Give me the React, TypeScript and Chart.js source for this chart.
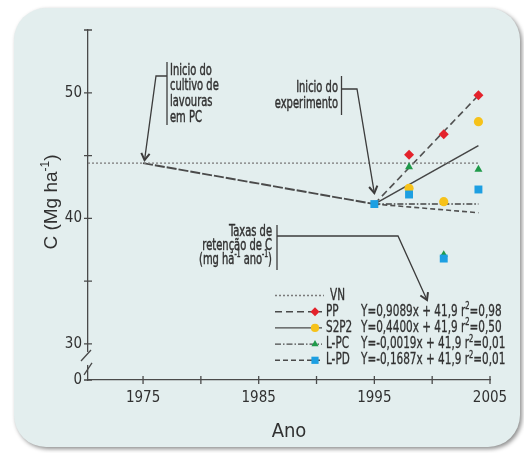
import React, { useEffect, useRef } from 'react';
import { Chart, registerables } from 'chart.js';

Chart.register(...registerables);

const NARROW = '"DejaVu Sans Condensed", "DejaVu Sans", sans-serif';
const REGULAR = '"Liberation Sans", Arial, sans-serif';
const TEXT = '#313131';
const AXIS = '#4a4a4a';
const BG = '#e3eeee';

// axis extent
const xMin = 1970.24;
const xMax = 2005;
const yMin = 27.13;
const yMax = 55;

// ticks
const xTickValues = [1975, 1980, 1985, 1990, 1995, 2000, 2005];
const xTickLabels = ['1975', '', '1985', '', '1995', '', '2005'];
const yTickValues = [30, 35, 40, 45, 50, 55];
const yTickLabels = ['30', '', '40', '', '50', ''];
const yBreakLabel = '0';

// reference lines
const vnYears = [1970.24, 2004];
const vnValues = [44.4, 44.4];
const declineYears = [1975, 1995];
const declineValues = [44.4, 41.14];

// series
const seriesNames = ['PP', 'S2P2', 'L-PC', 'L-PD'];
const sampleYears = [1998, 2001, 2004];
const ppValues = [45.06, 46.7, 49.8];
const s2p2Values = [42.4, 41.33, 47.7];
const lpcValues = [44.1, 37.1, 43.9];
const lpdValues = [41.9, 36.8, 42.3];
const startYear = 1995;
const startValue = 41.14;

// fitted lines
const fitYears = [1995, 2004];
const ppFit = [41.14, 49.8];
const s2p2Fit = [41.14, 45.8];
const lpcFit = [41.14, 41.14];
const lpdFit = [41.14, 40.45];

const equations = [
  'Y=0,9089x + 41,9 r²=0,98',
  'Y=0,4400x + 41,9 r²=0,50',
  'Y=-0,0019x + 41,9 r²=0,01',
  'Y=-0,1687x + 41,9 r²=0,01',
];

const annot1 = ['Inicio do', 'cultivo de', 'lavouras', 'em PC'];
const annot2 = ['Inicio do', 'experimento'];
const annot3 = ['Taxas de', 'retenção de C', '(mg ha⁻¹ ano⁻¹)'];

const yTitle = 'C (Mg ha⁻¹)';
const xTitle = 'Ano';

const COLORS = ['#e3222b', '#f6c21a', '#1f9a4a', '#1d9fe2'];
const STYLES = ['rectRot', 'circle', 'triangle', 'rect'];
const RADII = [5, 4.6, 4.6, 5.6];
const DASHES: number[][] = [[7, 4], [], [6, 2, 1.5, 2], [5, 3]];

const pts = (xs: number[], ys: number[]) => xs.map((x, i) => ({ x, y: ys[i] }));

const SUP: Record<string, string> = { '²': '2', '⁻': '-', '¹': '1' };

function drawRich(ctx: CanvasRenderingContext2D, text: string, x: number, y: number, size: number, align: string, family = NARROW, sx = 1, bold = 0) {
  const segs: { t: string; sup: boolean }[] = [];
  for (const ch of text) {
    const sup = ch in SUP;
    const c = sup ? SUP[ch] : ch;
    const last = segs[segs.length - 1];
    if (last && last.sup === sup) last.t += c;
    else segs.push({ t: c, sup });
  }
  const big = `${size}px ${family}`;
  const small = `${Math.round(size * 0.62)}px ${family}`;
  let total = 0;
  for (const s of segs) {
    ctx.font = s.sup ? small : big;
    total += ctx.measureText(s.t).width;
  }
  const w = total * sx;
  const start = align === 'right' ? x - w : align === 'center' ? x - w / 2 : x;
  ctx.save();
  ctx.translate(start, y);
  ctx.scale(sx, 1);
  ctx.textBaseline = 'middle';
  ctx.textAlign = 'left';
  ctx.strokeStyle = ctx.fillStyle as string;
  ctx.lineWidth = bold;
  ctx.setLineDash([]);
  let cx = 0;
  for (const s of segs) {
    ctx.font = s.sup ? small : big;
    const yy = s.sup ? -size * 0.33 : 0;
    ctx.fillText(s.t, cx, yy);
    if (bold > 0) ctx.strokeText(s.t, cx, yy);
    cx += ctx.measureText(s.t).width;
  }
  ctx.restore();
}

function arrow(ctx: CanvasRenderingContext2D, path: number[][]) {
  ctx.lineWidth = 1.3;
  ctx.beginPath();
  ctx.moveTo(path[0][0], path[0][1]);
  for (let i = 1; i < path.length; i++) ctx.lineTo(path[i][0], path[i][1]);
  ctx.stroke();
  const [ex, ey] = path[path.length - 1];
  const [px, py] = path[path.length - 2];
  const a = Math.atan2(ey - py, ex - px);
  const L = 8;
  ctx.beginPath();
  ctx.moveTo(ex - L * Math.cos(a - 0.55), ey - L * Math.sin(a - 0.55));
  ctx.lineTo(ex, ey);
  ctx.lineTo(ex - L * Math.cos(a + 0.55), ey - L * Math.sin(a + 0.55));
  ctx.lineWidth = 2;
  ctx.stroke();
  ctx.lineWidth = 1.3;
}

function marker(ctx: CanvasRenderingContext2D, style: string, x: number, y: number, r: number, color: string) {
  ctx.fillStyle = color;
  ctx.beginPath();
  if (style === 'circle') ctx.arc(x, y, r, 0, Math.PI * 2);
  else if (style === 'rect') { const s = r * Math.SQRT1_2; ctx.rect(x - s, y - s, 2 * s, 2 * s); }
  else if (style === 'rectRot') { ctx.moveTo(x, y - r); ctx.lineTo(x + r, y); ctx.lineTo(x, y + r); ctx.lineTo(x - r, y); ctx.closePath(); }
  else if (style === 'triangle') { const h = r * 1.5; ctx.moveTo(x, y - r); ctx.lineTo(x + h * 0.577, y + r * 0.5); ctx.lineTo(x - h * 0.577, y + r * 0.5); ctx.closePath(); }
  ctx.fill();
}

const decorPlugin = {
  id: 'decor',
  beforeDraw(chart: any) {
    const ctx = chart.ctx as CanvasRenderingContext2D;
    ctx.save();
    ctx.fillStyle = '#ffffff';
    ctx.fillRect(0, 0, chart.width, chart.height);
    ctx.shadowColor = 'rgba(0,0,0,0.45)';
    ctx.shadowBlur = 4;
    ctx.shadowOffsetX = 2;
    ctx.shadowOffsetY = 2;
    ctx.fillStyle = BG;
    ctx.beginPath();
    (ctx as any).roundRect(14, 8, 506, 439, 32);
    ctx.fill();
    ctx.restore();
  },
  afterDraw(chart: any) {
    const ctx = chart.ctx as CanvasRenderingContext2D;
    const xs = chart.scales.x;
    const ys = chart.scales.y;
    const ax = chart.chartArea.left;
    const ay = chart.chartArea.bottom;
    ctx.save();
    // tick marks crossing axes
    ctx.strokeStyle = AXIS;
    ctx.lineWidth = 1.3;
    ctx.beginPath();
    for (const v of xTickValues) {
      const px = xs.getPixelForValue(v);
      ctx.moveTo(px, ay - 4);
      ctx.lineTo(px, ay + 4);
    }
    for (const v of [yMin, ...yTickValues]) {
      const py = ys.getPixelForValue(v);
      ctx.moveTo(ax - 4, py);
      ctx.lineTo(ax + 4, py);
    }
    ctx.stroke();
    // axis break
    const y30 = ys.getPixelForValue(30);
    ctx.fillStyle = BG;
    ctx.fillRect(ax - 2, y30 + 8, 4, 13);
    ctx.beginPath();
    ctx.moveTo(ax - 7, y30 + 17);
    ctx.lineTo(ax + 3, y30 + 6);
    ctx.moveTo(ax - 4, y30 + 31);
    ctx.lineTo(ax + 4, y30 + 19);
    ctx.stroke();

    // y title
    ctx.fillStyle = TEXT;
    ctx.save();
    ctx.translate(52, (chart.chartArea.top + chart.chartArea.bottom) / 2 - 3);
    ctx.rotate(-Math.PI / 2);
    drawRich(ctx, yTitle, 0, 0, 19, 'center', REGULAR);
    ctx.restore();

    // annotations
    ctx.strokeStyle = '#3c3c3c';
    ctx.lineWidth = 1.3;
    ctx.fillStyle = TEXT;
    const fs = 16.5;
    const sx = 0.67;
    const fb = 0.45;
    annot1.forEach((t, i) => drawRich(ctx, t, 170, 70.5 + i * 15.7, fs, 'left', NARROW, sx, fb));
    ctx.strokeStyle = '#3c3c3c';
    ctx.lineWidth = 1.3;
    ctx.beginPath(); ctx.moveTo(167, 62); ctx.lineTo(167, 125); ctx.stroke();
    arrow(ctx, [[167, 76], [156, 76], [xs.getPixelForValue(declineYears[0]) + 1.5, ys.getPixelForValue(declineValues[0]) - 3]]);
    ctx.fillStyle = TEXT;
    annot2.forEach((t, i) => drawRich(ctx, t, 338, 87.5 + i * 16, fs, 'right', NARROW, sx, fb));
    ctx.strokeStyle = '#3c3c3c';
    ctx.lineWidth = 1.3;
    ctx.beginPath(); ctx.moveTo(341.5, 76); ctx.lineTo(341.5, 115); ctx.stroke();
    arrow(ctx, [[341.5, 89], [357, 89], [xs.getPixelForValue(startYear), ys.getPixelForValue(startValue) - 11]]);
    ctx.fillStyle = TEXT;
    annot3.forEach((t, i) => drawRich(ctx, t, 272, 231.5 + i * 14, fs, 'right', NARROW, sx, fb));
    ctx.strokeStyle = '#3c3c3c';
    ctx.lineWidth = 1.3;
    ctx.beginPath(); ctx.moveTo(277, 225); ctx.lineTo(277, 270); ctx.stroke();
    arrow(ctx, [[277, 236], [398, 236], [427, 300]]);

    // legend
    const ly0 = 295.5;
    const step = 16.2;
    const lfs = 15.5;
    const lsx = 0.75;
    ctx.lineWidth = 1.3;
    ctx.strokeStyle = '#7a7a7a';
    ctx.setLineDash([2, 2]);
    ctx.beginPath(); ctx.moveTo(275, ly0); ctx.lineTo(324, ly0); ctx.stroke();
    ctx.setLineDash([]);
    ctx.fillStyle = TEXT;
    drawRich(ctx, 'VN', 330, ly0, lfs, 'left', NARROW, lsx, 0.3);
    seriesNames.forEach((name, i) => {
      const y = ly0 + (i + 1) * step;
      ctx.strokeStyle = '#4a4a4a';
      ctx.lineWidth = 1.4;
      ctx.setLineDash(DASHES[i]);
      ctx.beginPath(); ctx.moveTo(275, y); ctx.lineTo(322, y); ctx.stroke();
      ctx.setLineDash([]);
      marker(ctx, STYLES[i], 315, y, RADII[i] - 0.5, COLORS[i]);
      ctx.fillStyle = TEXT;
      drawRich(ctx, name, 326, y, lfs, 'left', NARROW, lsx, 0.3);
      drawRich(ctx, equations[i], 361, y, lfs, 'left', NARROW, lsx, 0.3);
    });
    ctx.restore();
  },
};

function labelFrom(values: number[], labels: string[], v: number) {
  const i = values.findIndex((t) => Math.abs(t - v) < 1e-6);
  return i >= 0 ? labels[i] : '';
}

export default function App() {
  const ref = useRef<HTMLCanvasElement | null>(null);
  useEffect(() => {
    if (!ref.current) return;
    const lineDs = (data: any[], color: string, dash: number[], width: number) => ({
      data, showLine: true, borderColor: color, borderWidth: width, borderDash: dash,
      pointRadius: 0, fill: false, order: 10,
    });
    const ptDs = (data: any[], i: number) => ({
      data, showLine: false, pointStyle: STYLES[i], pointRadius: RADII[i],
      backgroundColor: COLORS[i], borderColor: COLORS[i], borderWidth: 0, order: 4 - i,
    });
    const datasets: any[] = [
      lineDs(pts(vnYears, vnValues), '#7d7d7d', [2, 2], 1.3),
      lineDs(pts(declineYears, declineValues), '#4a4a4a', [10, 2], 1.9),
      lineDs(pts(fitYears, ppFit), '#505050', DASHES[0], 1.6),
      lineDs(pts(fitYears, s2p2Fit), '#454545', DASHES[1], 1.5),
      lineDs(pts(fitYears, lpcFit), '#454545', DASHES[2], 1.6),
      lineDs(pts(fitYears, lpdFit), '#505050', DASHES[3], 1.6),
      ptDs(pts(sampleYears, ppValues), 0),
      ptDs(pts(sampleYears, s2p2Values), 1),
      ptDs(pts(sampleYears, lpcValues), 2),
      ptDs(pts(sampleYears, lpdValues), 3),
      { ...ptDs([{ x: startYear, y: startValue }], 3), order: 0 },
    ];
    const chart = new Chart(ref.current, {
      type: 'scatter',
      data: { datasets },
      options: {
        animation: false,
        responsive: false,
        devicePixelRatio: 1,
        layout: { padding: { left: 0, top: 30, right: 34, bottom: 0 } },
        plugins: { legend: { display: false }, tooltip: { enabled: false } },
        scales: {
          x: {
            type: 'linear', min: xMin, max: xMax,
            afterFit: (s: any) => { s.height = 73; },
            afterBuildTicks: (s: any) => { s.ticks = xTickValues.map((v) => ({ value: v })); },
            ticks: {
              autoSkip: false, maxRotation: 0, padding: 9, color: TEXT,
              font: { family: NARROW, size: 15 },
              callback: (v: any) => labelFrom(xTickValues, xTickLabels, Number(v)),
            },
            grid: { display: false, drawTicks: false },
            border: { display: true, color: AXIS, width: 1.3 },
            title: { display: true, text: xTitle, color: TEXT, font: { family: NARROW, size: 20 }, padding: { top: 0, bottom: 9 } },
          },
          y: {
            type: 'linear', min: yMin, max: yMax,
            afterFit: (s: any) => { s.width = 88; },
            afterBuildTicks: (s: any) => { s.ticks = [yMin, ...yTickValues].map((v) => ({ value: v })); },
            ticks: {
              autoSkip: false, padding: 6, color: TEXT,
              font: { family: NARROW, size: 15 },
              callback: (v: any) => (Math.abs(Number(v) - yMin) < 1e-6 ? yBreakLabel : labelFrom(yTickValues, yTickLabels, Number(v))),
            },
            grid: { display: false, drawTicks: false },
            border: { display: true, color: AXIS, width: 1.3 },
          },
        },
      } as any,
      plugins: [decorPlugin],
    });
    return () => chart.destroy();
  }, []);
  return (
    <div style={{ position: 'fixed', left: 0, top: 0, width: 524, height: 453 }}>
      <canvas ref={ref} width={524} height={453} style={{ display: 'block' }} />
    </div>
  );
}
